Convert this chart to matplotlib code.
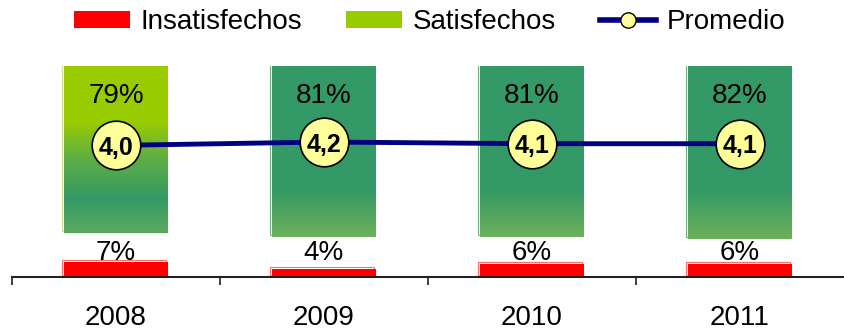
import numpy as np
import matplotlib
matplotlib.use("Agg")
import matplotlib.pyplot as plt
from matplotlib.colors import LinearSegmentedColormap
from matplotlib.patches import Patch
from matplotlib.lines import Line2D
from matplotlib.transforms import ScaledTranslation

plt.rcParams["font.family"] = ["Liberation Sans", "DejaVu Sans"]

years = ["2008", "2009", "2010", "2011"]
insatisfechos = [7, 4, 6, 6]
satisfechos = [79, 81, 81, 82]
promedio = [4.0, 4.2, 4.1, 4.1]
promedio_labels = ["4,0", "4,2", "4,1", "4,1"]

RED = "#FF0000"
LIME = "#99CC00"
NAVY = "#000080"

fig = plt.figure(figsize=(8.44, 3.30), dpi=100)
ax = fig.add_axes([12 / 844, 53 / 330, 832 / 844, 211 / 330])
x = np.arange(len(years))
width = 0.5

# thin offset outline drawn behind each bar
shift = ax.transData + ScaledTranslation(-2 / 100, 2 / 100, fig.dpi_scale_trans)

# dissatisfied: red bars at the base
ax.bar(x, insatisfechos, width, fill=False, edgecolor="#FF7070", lw=0.8,
       transform=shift, zorder=1)
ax.bar(x, insatisfechos, width, color=RED, lw=0, zorder=2)

# satisfied: gradient bars stacked up to 100 %
grad_first = LinearSegmentedColormap.from_list(
    "g08", [(0.0, "#5DAA5E"), (0.2, "#339966"), (0.45, "#5FAE45"),
            (0.67, LIME), (1.0, LIME)])
grad_rest = LinearSegmentedColormap.from_list(
    "grest", [(0.0, "#6DB05A"), (0.28, "#339966"), (1.0, "#339966")])
ramp = np.linspace(0, 1, 256).reshape(-1, 1)

green_bottom = [100 - s for s in satisfechos]
for i, (xi, s, b) in enumerate(zip(x, satisfechos, green_bottom)):
    cmap = grad_first if i == 0 else grad_rest
    edge = "#C8E08A" if i == 0 else "#6FB28A"
    ax.bar(xi, s, width, bottom=b, fill=False, edgecolor=edge, lw=0.8,
           transform=shift, zorder=1)
    ax.imshow(ramp, extent=[xi - width / 2, xi + width / 2, b, b + s],
              origin="lower", cmap=cmap, aspect="auto",
              interpolation="bilinear", zorder=2)

# value labels
for xi, s in zip(x, satisfechos):
    ax.annotate(f"{s}%", (xi, 100), xytext=(0, -21.5), textcoords="offset points",
                ha="center", va="center", fontsize=20, zorder=4)
for xi, v in zip(x, insatisfechos):
    ax.text(xi, 11.6, f"{v}%", ha="center", va="center", fontsize=20, zorder=4)

ax.set_xlim(-0.5, 3.5)
ax.set_ylim(0, 100)
ax.set_facecolor("none")
for side in ("left", "right", "top"):
    ax.spines[side].set_visible(False)
ax.spines["bottom"].set_linewidth(1.5)
ax.spines["bottom"].set_color("#222222")
ax.set_yticks([])
ax.set_xticks([-0.5, 0.5, 1.5, 2.5])
ax.set_xticklabels([])
ax.tick_params(axis="x", which="major", direction="out", length=6, width=1.2,
               color="#222222")
ax.set_xticks(x, minor=True)
ax.set_xticklabels(years, minor=True, fontsize=20)
ax.tick_params(axis="x", which="minor", length=0, pad=20)

# average score on a secondary scale
ax2 = ax.twinx()
ax2.plot(x, promedio, color=NAVY, lw=3.5, marker="o", ms=35,
         mfc="#FFFF99", mec="black", mew=1.2, zorder=5)
for xi, v, lab in zip(x, promedio, promedio_labels):
    ax2.text(xi, v, lab, ha="center", va="center_baseline", fontsize=18,
             fontweight="bold", zorder=6)
ax2.set_ylim(-3.74, 8.67)
ax2.set_yticks([])
for side in ("left", "right", "top", "bottom"):
    ax2.spines[side].set_visible(False)

handles = [
    Patch(facecolor=RED, edgecolor="none"),
    Patch(facecolor=LIME, edgecolor="none"),
    Line2D([0], [0], color=NAVY, lw=4, marker="o", ms=11,
           mfc="#FFFF99", mec="black", mew=1),
]
fig.legend(handles, ["Insatisfechos", "Satisfechos", "Promedio"],
           loc="upper center", bbox_to_anchor=(0.509, 1.005), ncol=3,
           frameon=False, fontsize=20, handlelength=2.0, handleheight=0.55,
           handletextpad=0.38, columnspacing=1.6, borderaxespad=0)

fig.savefig("out.png", dpi=100)
